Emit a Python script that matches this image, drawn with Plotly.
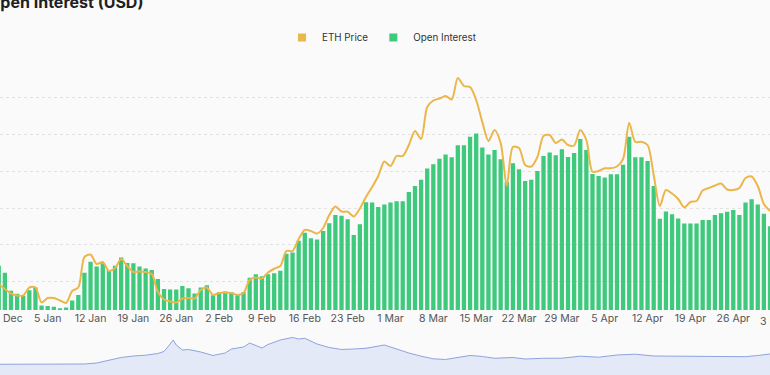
import pandas as pd
import plotly.graph_objects as go

# ---- data ----
dates = pd.date_range("2023-12-28", "2024-05-02", freq="D")

# Open interest, USD billions (daily)
open_interest = [
    7.43, 7.24, 6.75, 6.67, 6.62, 6.77, 6.84, 6.35, 6.34, 6.32,
    6.28, 6.30, 6.49, 6.64, 7.24, 7.54, 7.41, 7.50, 7.32, 7.43,
    7.66, 7.51, 7.50, 7.41, 7.36, 7.32, 7.07, 6.80, 6.79, 6.79,
    6.88, 6.82, 6.68, 6.84, 6.90, 6.63, 6.71, 6.73, 6.71, 6.65,
    6.72, 7.11, 7.20, 7.15, 7.20, 7.23, 7.30, 7.76, 7.79, 8.11,
    8.33, 8.18, 8.15, 8.38, 8.59, 8.81, 8.79, 8.70, 8.27, 8.56,
    9.16, 9.15, 9.03, 9.10, 9.15, 9.19, 9.19, 9.44, 9.60, 9.77,
    10.08, 10.19, 10.34, 10.46, 10.38, 10.71, 10.71, 10.94, 11.03, 10.65,
    10.46, 10.58, 10.33, 9.71, 10.22, 10.06, 9.74, 9.77, 10.01, 10.42,
    10.51, 10.44, 10.60, 10.39, 10.50, 10.88, 10.58, 9.93, 9.87, 9.83,
    9.92, 9.92, 10.18, 10.94, 10.38, 10.38, 10.28, 9.60, 8.71, 8.91,
    8.83, 8.72, 8.58, 8.58, 8.58, 8.68, 8.68, 8.81, 8.86, 8.90,
    8.95, 8.81, 9.15, 9.24, 9.10, 8.85, 8.51,
]

# ETH price, USD (daily)
eth_price = [
    2352, 2312, 2276, 2260, 2260, 2324, 2324, 2204, 2240, 2240,
    2220, 2200, 2296, 2324, 2568, 2588, 2512, 2528, 2456, 2480,
    2552, 2496, 2448, 2452, 2448, 2432, 2288, 2228, 2212, 2204,
    2236, 2240, 2236, 2304, 2324, 2264, 2280, 2284, 2280, 2264,
    2280, 2384, 2404, 2396, 2444, 2474, 2496, 2616, 2616, 2712,
    2784, 2776, 2756, 2800, 2904, 2972, 2932, 2930, 2892, 2956,
    3048, 3128, 3216, 3332, 3296, 3376, 3376, 3464, 3576, 3512,
    3768, 3820, 3836, 3856, 3828, 4000, 3936, 3928, 3824, 3648,
    3496, 3584, 3480, 3136, 3448, 3440, 3304, 3292, 3368, 3536,
    3544, 3480, 3508, 3464, 3460, 3584, 3504, 3250, 3256, 3278,
    3278, 3292, 3352, 3640, 3488, 3490, 3464, 3224, 2976, 3104,
    3076, 3032, 2964, 3008, 3016, 3100, 3120, 3140, 3156, 3108,
    3104, 3120, 3200, 3212, 3136, 2992, 2936,
]

# Navigator series (overview), USD billions
nav_dates = [
    "2023-12-28", "2023-12-30", "2024-01-01", "2024-01-03", "2024-01-05",
    "2024-01-07", "2024-01-09", "2024-01-11", "2024-01-13", "2024-01-15",
    "2024-01-17", "2024-01-19", "2024-01-21", "2024-01-23", "2024-01-24",
    "2024-01-25", "2024-01-25 12:00", "2024-01-26", "2024-01-27", "2024-01-28",
    "2024-01-30", "2024-02-01", "2024-02-03", "2024-02-04", "2024-02-06",
    "2024-02-07", "2024-02-08", "2024-02-09", "2024-02-10", "2024-02-12",
    "2024-02-14", "2024-02-15", "2024-02-16", "2024-02-18", "2024-02-20",
    "2024-02-22", "2024-02-24", "2024-02-26", "2024-02-29", "2024-03-02",
    "2024-03-04", "2024-03-06", "2024-03-08", "2024-03-10", "2024-03-12",
    "2024-03-14", "2024-03-16", "2024-03-18", "2024-03-21", "2024-03-23",
    "2024-03-26", "2024-03-29", "2024-04-01", "2024-04-04", "2024-04-07",
    "2024-04-10", "2024-04-13", "2024-04-16", "2024-04-19", "2024-04-22",
    "2024-04-25", "2024-04-28", "2024-04-30", "2024-05-02",
]
nav_values = [
    5.68, 5.68, 5.63, 5.63, 5.58,
    5.58, 5.58, 5.75, 6.00, 6.63,
    7.38, 7.75, 7.95, 8.38, 8.88,
    10.75, 11.75, 10.50, 9.25, 9.38,
    8.75, 7.88, 8.50, 9.50, 10.00,
    11.00, 10.38, 9.75, 10.63, 11.75,
    12.38, 12.00, 12.18, 10.75, 9.88,
    9.38, 9.50, 9.68, 10.50, 9.50,
    8.50, 7.70, 7.05, 6.88, 7.38,
    7.88, 7.63, 7.18, 7.38, 7.00,
    7.18, 7.20, 7.70, 7.45, 8.00,
    8.20, 7.75, 7.75, 7.58, 7.75,
    7.58, 7.58, 7.88, 8.25,
]

GREEN = "#3ec97c"
ORANGE = "#ebb64a"
BG = "#fafafa"
FONT = "Inter"

x_range = ["2023-12-28 04:58", "2024-05-02 00:00"]

fig = go.Figure()

fig.add_trace(go.Bar(
    x=dates, y=open_interest, name="Open Interest",
    marker=dict(color=GREEN, line=dict(width=0)),
    showlegend=False, xaxis="x", yaxis="y",
))
fig.add_trace(go.Scatter(
    x=dates, y=eth_price, name="ETH Price", mode="lines",
    line=dict(color=ORANGE, width=2, shape="spline", smoothing=0.8),
    showlegend=False, xaxis="x", yaxis="y2",
))
# legend entries (square symbols)
fig.add_trace(go.Scatter(
    x=[None], y=[None], mode="markers", name="ETH Price",
    marker=dict(symbol="square", size=8, color=ORANGE), xaxis="x", yaxis="y2",
))
fig.add_trace(go.Scatter(
    x=[None], y=[None], mode="markers", name="Open Interest",
    marker=dict(symbol="square", size=8, color=GREEN), xaxis="x", yaxis="y",
))
# navigator
fig.add_trace(go.Scatter(
    x=nav_dates, y=nav_values, mode="lines", fill="tozeroy",
    fillcolor="#e3e9f7", line=dict(color="#8ea4de", width=1),
    showlegend=False, xaxis="x2", yaxis="y3",
))

H = 375.0
def py(pix):
    return (H - pix) / H

fig.update_layout(
    width=770, height=375,
    margin=dict(l=0, r=0, t=0, b=0, autoexpand=False),
    paper_bgcolor=BG, plot_bgcolor=BG,
    font=dict(family=FONT, size=10.5, color="#555"),
    bargap=0.3,
    showlegend=True,
    legend=dict(orientation="h", x=0.4955, xanchor="center", y=py(37.5), yanchor="middle",
                bgcolor="rgba(0,0,0,0)", font=dict(size=9.8, color="#333"),
                itemwidth=30, traceorder="normal"),
    xaxis=dict(
        domain=[0, 1], anchor="y", type="date", range=x_range,
        tickmode="linear", tick0="2023-12-29", dtick=7 * 86400000,
        tickformat="%-d %b", ticks="", showgrid=False, showline=False,
        zeroline=False, ticklabeloverflow="allow", automargin=False,
        tickfont=dict(size=10.5, color="#555"),
    ),
    yaxis=dict(
        domain=[py(310), py(61)], range=[6.23, 13.0], tick0=0, dtick=1,
        showgrid=True, gridcolor="#e2e2e2", griddash="3px,3px", gridwidth=1,
        showticklabels=False, zeroline=False, ticks="", automargin=False,
    ),
    yaxis2=dict(
        overlaying="y", side="right", range=[2144, 4136], automargin=False,
        showgrid=False, showticklabels=False, zeroline=False, ticks="",
    ),
    xaxis2=dict(
        domain=[0, 1], anchor="y3", type="date", range=x_range, visible=False,
        automargin=False,
    ),
    yaxis3=dict(
        domain=[0, py(330)], range=[3, 14.25], visible=False, automargin=False,
    ),
    annotations=[
        dict(text="<b>Open Interest (USD)</b>", xref="paper", yref="paper",
             x=-14 / 770, y=py(2), xanchor="left", yanchor="middle",
             showarrow=False, font=dict(size=16, color="#1f1f1f", family=FONT)),
        dict(text="3 May", xref="paper", yref="paper",
             x=776 / 770, y=py(321), xanchor="center", yanchor="middle",
             showarrow=False, font=dict(size=10.5, color="#555", family=FONT)),
    ],
)

fig.write_html(
    "out.html",
    config={"displayModeBar": False},
    post_script="document.body.style.margin='0px';document.body.style.overflow='hidden';document.body.style.background='#fafafa';",
)
